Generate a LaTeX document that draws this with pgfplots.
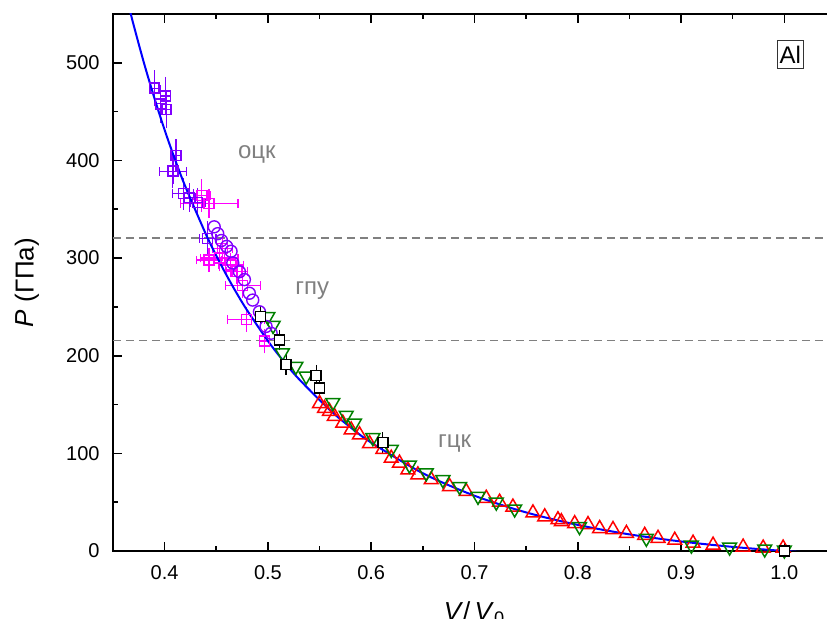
\documentclass[border=0pt]{standalone}
\usepackage{fontspec}
\setmainfont{Liberation Sans}
\usepackage{pgfplots}
\pgfplotsset{compat=1.18}
\definecolor{violetc}{RGB}{128,0,255}
\definecolor{magc}{RGB}{255,0,255}
\definecolor{greenc}{RGB}{0,128,0}
\definecolor{grayc}{RGB}{128,128,128}
\pgfplotstableread{
x y ex ey
0.436 364 0.008 12
0.443 356 0.028 10
0.443 298 0.012 8
0.453 300 0.018 9
0.456 310 0.010 8
0.464 293 0.012 8
0.470 286 0.010 8
0.4756 272 0.017 8
0.479 237 0.018 8
0.4966 215 0.005 8
}\magdata
\pgfplotstableread{
x y ex ey
0.390 474 0.004 14
0.396 458 0.005 15
0.401 466 0.005 15
0.402 452 0.004 14
0.411 405 0.005 12
0.408 389 0.013 13
0.418 366 0.010 12
0.424 362 0.006 10
0.432 357 0.007 10
0.4417 320 0.008 13
}\viodata
\begin{document}
\begin{tikzpicture}
\begin{axis}[
  at={(0,0)}, anchor=south west,
  scale only axis, width=361.5pt, height=268.5pt,
  xmin=0.35, xmax=1.05, ymin=0, ymax=550,
  xtick={0.4,0.5,0.6,0.7,0.8,0.9,1.0},
  ytick={0,100,200,300,400,500},
  minor x tick num=1, minor y tick num=1,
  tick align=inside,
  major tick length=4.5pt, minor tick length=2.5pt,
  every tick/.style={black, line width=0.8pt},
  axis line style={line width=0.8pt},
  /pgf/number format/assume math mode=true,
  every tick label/.append style={font=\fontsize{10}{12}\selectfont, inner sep=0pt},
  xticklabel style={/pgf/number format/fixed, /pgf/number format/fixed zerofill, /pgf/number format/precision=1, yshift=-7pt},
  yticklabel style={xshift=-6.5pt},
  every axis y label/.style={at={(axis description cs:0,0.5)}, xshift=-43pt, rotate=90, anchor=center, font=\fontsize{13}{15}\selectfont},
  every axis x label/.style={at={(axis description cs:0.5,0)}, yshift=-25pt, anchor=north, inner sep=0pt, font=\fontsize{13}{15}\selectfont},
  ylabel={\textit{P} (ГПа)},
  xlabel={\textit{V}/\,\textit{V}\textsubscript{0}},
]
% dashed phase boundaries
\addplot[grayc, line width=0.6pt, dash pattern=on 4pt off 2.5pt] coordinates {(0.35,320.5) (1.05,320.5)};
\addplot[grayc, line width=0.6pt, dash pattern=on 4pt off 2.5pt] coordinates {(0.35,215.2) (1.05,215.2)};

% red up triangles
\addplot[only marks, mark=triangle, red, mark options={line width=0.75pt, mark size=4pt, fill=none}] table {
x y
0.550 151
0.5548 146
0.5596 143
0.5644 138
0.5725 131
0.5806 124
0.5887 119
0.5984 110
0.6113 104
0.6194 95
0.6274 90
0.6355 83
0.6452 78
0.6581 73
0.6759 66
0.692 61
0.7114 54
0.7243 50
0.7372 45
0.7566 39
0.768 35
0.7808 32
0.7841 30
0.797 28
0.8099 27
0.8212 23
0.8341 22
0.8471 18
0.8648 16
0.8777 13
0.8939 11
0.9116 8
0.931 6
0.9601 4
0.9795 3
0.9988 3
};

% green down triangles
\addplot[only marks, mark=triangle, greenc, mark options={line width=0.75pt, mark size=4pt, rotate=180, fill=none}] table {
x y
0.4999 240
0.505 231
0.514 203
0.527 189
0.537 179
0.5628 152
0.5758 139
0.5838 131
0.6016 116
0.6194 104
0.637 88
0.6533 80
0.6694 73
0.6856 66
0.7034 56
0.7211 50
0.7389 43
0.8017 25
0.8664 13
0.910 6
0.947 4
0.981 2
1.000 1
};

% magenta squares: x errors, y errors, marks
\addplot[draw=none, mark=none, magc, forget plot,
  error bars/.cd, x dir=both, x explicit, error mark=|,
  error bar style={line width=0.6pt, solid},
  error mark options={line width=0.6pt, mark size=2.2pt}]
  table[x=x, y=y, x error=ex] {\magdata};
\addplot[only marks, mark=square, magc, mark options={line width=0.7pt, mark size=2.5pt, fill=none},
  error bars/.cd, y dir=both, y explicit,
  error bar style={line width=0.6pt},
  error mark options={line width=0.6pt, mark size=2.2pt}]
  table[x=x, y=y, y error=ey] {\magdata};

% violet squares: x errors, y errors, marks
\addplot[draw=none, mark=none, violetc, forget plot,
  error bars/.cd, x dir=both, x explicit, error mark=|,
  error bar style={line width=0.6pt, solid},
  error mark options={line width=0.6pt, mark size=2.2pt}]
  table[x=x, y=y, x error=ex] {\viodata};
\addplot[only marks, mark=square, violetc, mark options={line width=0.7pt, mark size=2.5pt, fill=none},
  error bars/.cd, y dir=both, y explicit,
  error bar style={line width=0.6pt},
  error mark options={line width=0.6pt, mark size=2.2pt}]
  table[x=x, y=y, y error=ey] {\viodata};

% violet circles
\addplot[only marks, mark=o, violetc, mark options={line width=0.7pt, mark size=3pt, fill=none}] table {
x y
0.448 332
0.4514 325
0.455 318
0.460 312
0.4643 307
0.466 295
0.4724 286
0.4772 278
0.482 264
0.4853 257
0.4918 245
0.4982 230
0.5031 223
};

% black squares with y errors
\addplot[only marks, mark=square*, black, mark options={line width=0.7pt, mark size=2.5pt, fill=white},
  error bars/.cd, y dir=both, y explicit,
  error bar style={line width=0.6pt},
  error mark options={line width=0.6pt, mark size=2.2pt}]
  table[x=x, y=y, y error=ey] {
x y ey
0.4927 240 6
0.5111 216 6
0.5176 191 6
0.5467 180 6
0.550 167 6
0.6113 111 6
1.000 0 4
};

% fitted EOS curve
\addplot[blue, line width=1pt, smooth] coordinates {
(0.365,559.4) (0.37,538.6) (0.38,499.8) (0.39,464.2) (0.40,431.2) (0.41,401.1)
(0.42,373.4) (0.44,324.3) (0.45,302.5) (0.46,282.3) (0.47,263.6) (0.48,246.3)
(0.50,215.1) (0.515,194.6) (0.53,176.1) (0.56,144.4) (0.58,126.6) (0.60,111.0)
(0.65,79.6) (0.70,56.6) (0.75,39.5) (0.80,26.7) (0.85,17.0) (0.90,9.74)
(0.95,4.20) (1.00,0) (1.05,-3.19)
};

% phase labels
\node[grayc, anchor=base, font=\fontsize{12}{14}\selectfont] at (axis cs:0.4893,401.6) {оцк};
\node[grayc, anchor=base, font=\fontsize{12}{14}\selectfont] at (axis cs:0.543,263) {гпу};
\node[grayc, anchor=base, font=\fontsize{12}{14}\selectfont] at (axis cs:0.6807,105.5) {гцк};
\node[draw=black!80, line width=0.5pt, inner xsep=1.2pt, inner ysep=2.8pt, font=\fontsize{12}{14}\selectfont] at (axis cs:1.0058,508.7) {Al};
\end{axis}
\pgfresetboundingbox
\path[use as bounding box] (-56.5pt,-34pt) rectangle (357pt,275.5pt);
\end{tikzpicture}
\end{document}
